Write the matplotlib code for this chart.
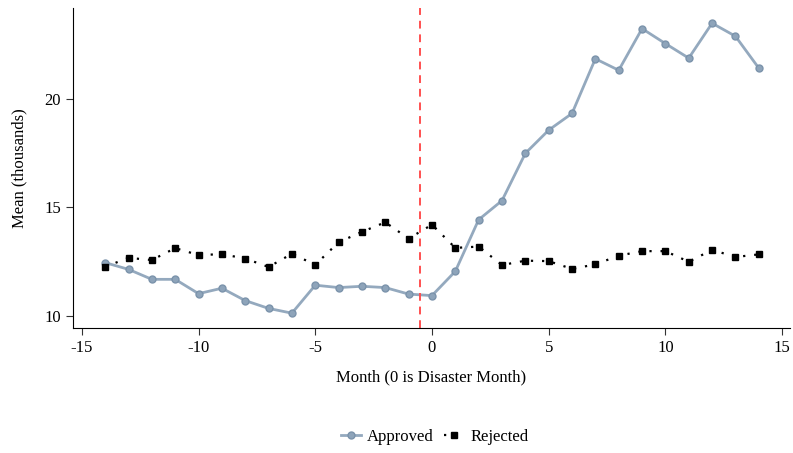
import matplotlib
matplotlib.use("Agg")
import matplotlib.pyplot as plt

plt.rcParams['font.family'] = ['Liberation Serif', 'DejaVu Serif']
plt.rcParams['axes.unicode_minus'] = False

# data
months = list(range(-14, 15))
approved = [12.45, 12.14, 11.68, 11.68, 11.02, 11.27, 10.70, 10.34, 10.12, 11.41,
            11.30, 11.36, 11.30, 11.00, 10.93, 12.05, 14.43, 15.31, 17.49, 18.56,
            19.33, 21.85, 21.32, 23.24, 22.55, 21.88, 23.49, 22.89, 21.42]
rejected = [12.26, 12.67, 12.57, 13.12, 12.80, 12.84, 12.64, 12.25, 12.86, 12.35,
            13.39, 13.87, 14.31, 13.56, 14.20, 13.13, 13.19, 12.34, 12.54, 12.52,
            12.16, 12.37, 12.77, 12.98, 12.98, 12.49, 13.04, 12.71, 12.83]
xticks = [-15, -10, -5, 0, 5, 10, 15]
yticks = [10, 15, 20]
event_line = -0.5

fig = plt.figure(figsize=(7.93, 4.53), dpi=100)
ax = fig.add_axes([0.0917, 0.2766, 0.904, 0.7057])

ax.plot(months, approved, color='#94a9be', lw=2, marker='o', ms=5,
        mfc='#8ea4ba', mec='#7b93ab', label='Approved')
ax.plot(months, rejected, color='black', lw=1.6, ls=(0, (1, 4)), marker='s', ms=5,
        label='Rejected')
ax.axvline(event_line, color='#ff5050', ls=(0, (4, 3)), lw=1.4)

ax.set_xlim(-15.39, 15.32)
ax.set_ylim(9.45, 24.19)
ax.set_xticks(xticks)
ax.set_yticks(yticks)
ax.spines['top'].set_visible(False)
ax.spines['right'].set_visible(False)
ax.tick_params(labelsize=12, length=5, color='#333333')
ax.set_xlabel('Month (0 is Disaster Month)', fontsize=12, labelpad=10)
ax.set_ylabel('Mean (thousands)', fontsize=12, labelpad=12)

ax.legend(loc='center', bbox_to_anchor=(0.505, -0.342), ncol=2, frameon=False,
          fontsize=12, handlelength=1.2, columnspacing=0.6, handletextpad=0.4)

fig.savefig('out.png', dpi=100)
